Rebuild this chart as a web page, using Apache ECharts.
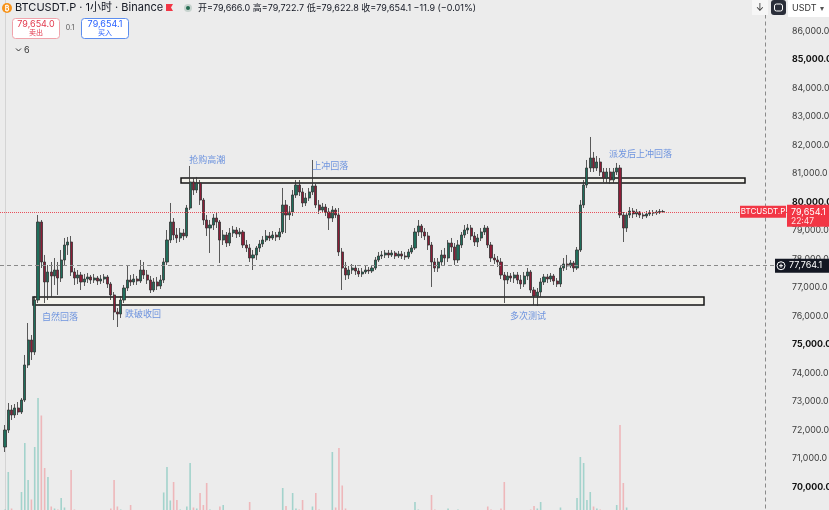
<!DOCTYPE html>
<html><head><meta charset="utf-8">
<script src="https://cdn.jsdelivr.net/npm/echarts@6/dist/echarts.min.js"></script>
<style>html,body{margin:0;padding:0;background:#ececec}#c{width:829px;height:510px}</style>
</head><body><div id="c"></div>
<script>
const opens=[71403,72000,72702,72526,72772,72631,73052,74281,75158,74737,
76561,79298,77895,77193,77544,77404,77614,77333,77965,78491,
78596,77544,77333,77439,77193,77298,77369,77263,77333,77228,
77298,77369,77123,76737,76140,76070,76561,76983,77263,77193,
77298,77228,77614,77439,77263,76912,77193,77053,77263,77895,
78666,79298,78842,78737,78912,78807,79789,80702,80421,80667,
80070,79368,79087,79193,79438,79298,78666,78842,78561,78912,
79017,78877,78947,78491,78386,78035,78141,78386,78526,78666,
78807,78737,78842,78772,78947,79895,79544,79649,80246,80597,
80351,79965,80141,80351,80562,79895,79719,79824,79649,79438,
79719,79544,78246,77684,77439,77614,77684,77579,77474,77544,
77614,77579,77684,77965,78105,78141,78211,78141,78211,78105,
78176,78105,78070,78246,78386,78947,79158,78947,78807,78491,
77895,77684,77895,78141,78035,78561,78421,77965,78491,78842,
79017,79087,78807,78596,78737,78947,79087,78491,78035,77965,
77895,77439,77263,77404,77333,77439,77263,77123,77404,77544,
76912,76702,76842,77193,77369,77298,77404,77228,77123,77684,
77825,77755,77860,77684,78316,79895,80597,81193,81544,81193,
81404,81053,80842,81053,80772,81053,81193,79544,79087,79544,
79684,79579,79649,79544,79509,79579,79614,79620,79649,79666.0];
const closes=[72000,72702,72526,72772,72631,73052,74281,75158,74737,76561,
79298,77895,77193,77544,77404,77614,77333,77965,78491,78596,
77544,77333,77439,77193,77298,77369,77263,77333,77228,77298,
77369,77123,76737,76140,76070,76561,76983,77263,77193,77298,
77228,77614,77439,77263,76912,77193,77053,77263,77895,78666,
79298,78842,78737,78912,78807,79789,80702,80421,80667,80070,
79368,79087,79193,79438,79298,78666,78842,78561,78912,79017,
78877,78947,78491,78386,78035,78141,78386,78526,78666,78807,
78737,78842,78772,78947,79895,79544,79649,80246,80597,80351,
79965,80141,80351,80562,79895,79719,79824,79649,79438,79719,
79544,78246,77684,77439,77614,77684,77579,77474,77544,77614,
77579,77684,77965,78105,78141,78211,78141,78211,78105,78176,
78105,78070,78246,78386,78947,79158,78947,78807,78491,77895,
77684,77895,78141,78035,78561,78421,77965,78491,78842,79017,
79087,78807,78596,78737,78947,79087,78491,78035,77965,77895,
77439,77263,77404,77333,77439,77263,77123,77404,77544,76912,
76702,76842,77193,77369,77298,77404,77228,77123,77684,77825,
77755,77860,77684,78316,79895,80597,81193,81544,81193,81404,
81053,80842,81053,80772,81053,81193,79544,79087,79544,79684,
79579,79649,79544,79509,79579,79614,79620,79649,79666,79654.1];
const highs=[72175,72947,72877,72912,72982,73122,74632,75754,75333,76702,
79544,79368,78141,77790,77895,78035,77895,78316,78737,78772,
78807,77684,77614,77544,77474,77509,77439,77474,77404,77439,
77474,77439,77193,76842,76280,76702,77088,77755,77439,77474,
77404,77965,77895,77614,77404,77333,77369,77439,78035,79017,
79965,79438,79087,79087,79052,79895,81264,80842,80878,80772,
80141,79544,79368,79579,79649,79368,79017,78947,79087,79158,
79123,79087,79017,78666,78526,78316,78456,78666,78807,79017,
78947,78982,78947,79087,80492,80070,79859,80421,80772,80772,
80492,80316,80492,81474,80632,80070,79965,79930,79789,79859,
79789,79789,78386,77895,77755,77825,77790,77684,77684,77755,
77719,77790,78070,78246,78281,78316,78316,78316,78281,78281,
78281,78246,78351,78491,79087,79368,79228,79087,78947,78596,
78035,78035,78316,78386,78666,78737,78561,78666,78947,79193,
79228,79193,78947,78877,79087,79193,79158,78596,78176,78105,
78035,77544,77544,77509,77544,77544,77439,77544,77684,77614,
77018,76983,77333,77474,77474,77509,77474,77333,77790,78035,
78141,77965,77930,78421,80070,80772,81474,82281,81755,81614,
81544,81193,81193,81193,81193,81369,81299,79649,79649,79824,
79789,79754,79684,79649,79684,79719,79719,79719,79754,79722.7];
const lows=[71228,71895,72351,72421,72526,72561,72982,74175,74456,74632,
76456,77684,76456,76561,76667,77088,76737,77193,77790,78141,
77404,77088,77123,76912,77053,77158,77123,77158,77088,77123,
77158,76983,76561,75859,75614,75930,76456,76877,77053,77088,
77088,77158,77298,77123,76807,76842,76912,76947,77158,77790,
78561,78666,78561,78596,78666,78737,79719,80246,80316,79895,
79193,78807,78211,79017,79087,77860,78491,78421,78456,78772,
78737,78772,78386,78246,77895,77614,77965,78246,78421,78596,
78631,78666,78631,78666,78877,78912,79368,79509,80141,80211,
79824,79859,80035,80246,79789,79579,79614,79509,79017,79298,
79438,78105,76912,77263,77298,77474,77439,77369,77369,77474,
77474,77509,77614,77895,78000,78035,78035,78070,78000,78035,
78000,77965,78000,78176,78316,78807,78737,78666,78316,77018,
77544,77544,77755,77790,77895,78246,77790,77860,78386,78737,
78877,78666,78456,78421,78631,78842,78386,77895,77825,77719,
77298,76456,77123,77193,77158,77123,76947,77018,77263,76807,
76386,76351,76667,77088,77158,77193,77088,77018,77018,77579,
77614,77684,77544,77614,78246,79789,80492,81053,81053,81088,
80913,80702,80667,80632,80667,80948,79438,78596,78947,79438,
79438,79473,79438,79403,79438,79509,79509,79544,79579,79622.8];
const volumes=[60,435,70,45,50,235,725,355,160,685,
1175,1000,475,385,90,70,60,175,80,50,
455,60,40,45,35,30,40,35,30,40,
35,50,70,355,90,60,45,50,105,40,
35,45,40,35,50,40,35,30,230,485,
150,335,155,60,45,90,525,80,70,225,
105,325,60,45,40,90,105,40,35,30,
35,30,50,45,135,40,35,30,35,30,
30,25,30,35,275,95,50,225,70,60,
155,40,35,90,225,60,40,35,50,635,
80,675,300,70,45,35,30,25,30,25,
30,25,45,40,30,25,20,25,20,25,
20,25,30,35,135,60,35,30,50,205,
60,40,45,35,70,40,50,60,45,40,
35,40,30,35,40,35,90,60,40,45,
70,335,50,35,30,35,40,35,30,60,
95,70,135,40,35,30,35,40,80,50,
45,30,35,175,585,525,155,235,90,70,
60,50,45,50,40,105,905,325,80,50,
35,30,25,30,25,20,25,20,20,15];
const annotations=[
  {text:'抢购高潮',i:55.7,price:81474},
  {text:'上冲回落',i:92.9,price:81264},
  {text:'派发后上冲回落',i:182.7,price:81685},
  {text:'自然回落',i:11.2,price:75965},
  {text:'跌破收回',i:36.3,price:76070},
  {text:'多次测试',i:152.7,price:76000}
];
const boxes=[
  {i0:53.24,i1:223.8,top:80842,bottom:80667},
  {i0:8.48,i1:211.4,top:76667,bottom:76386}
];
const lastPrice=79654.1, crossPrice=77764.1, crossIndex=229.85;
const PAD_BEFORE=1, TOTAL=238;
const FONT="Inter, 'Noto Sans CJK SC', sans-serif";

const cats=[], kData=[], vData=[];
for(let j=0;j<TOTAL;j++){
  cats.push(String(j));
  const i=j-PAD_BEFORE;
  if(i>=0 && i<opens.length){
    kData.push([opens[i],closes[i],lows[i],highs[i]]);
    const up=closes[i]>=opens[i];
    vData.push({value:volumes[i],itemStyle:{color:up?'rgba(34,166,148,0.36)':'rgba(242,70,80,0.32)'}});
  } else {kData.push('-');vData.push('-');}
}
const chart=echarts.init(document.getElementById('c'),null,{renderer:'canvas'});
const fmt=v=>v.toLocaleString('en-US',{minimumFractionDigits:1,maximumFractionDigits:1});
chart.setOption({
  animation:false,
  backgroundColor:'#ececec',
  textStyle:{fontFamily:FONT},
  grid:{left:0,right:42,top:-26,bottom:-5.5,containLabel:false,outerBoundsMode:'none'},
  xAxis:[
    {type:'category',data:cats,boundaryGap:true,show:false},
    {type:'value',min:-1.5,max:TOTAL-1.5,show:false}
  ],
  yAxis:[
    {type:'value',min:69000,max:88000,interval:1000,position:'right',
     axisLine:{show:true,lineStyle:{color:'#d4d4d4'}},axisTick:{show:false},splitLine:{show:false},
     axisLabel:{margin:5,align:'left',
       formatter:v=>(v%5000===0?'{b|':'{n|')+fmt(v)+'}',
       rich:{n:{fontSize:8.8,color:'#3b3b3b',fontFamily:FONT},b:{fontSize:8.8,fontWeight:'bold',color:'#111',fontFamily:FONT}}}},
    {type:'value',min:0,max:5415,show:false}
  ],
  series:[
    {type:'bar',xAxisIndex:0,yAxisIndex:1,data:vData,barWidth:1.6,z:1},
    {type:'candlestick',xAxisIndex:0,yAxisIndex:0,data:kData,barWidth:2.6,z:2,
     itemStyle:{color:'#1f6e5b',color0:'#8c1d37',borderColor:'#333333',borderColor0:'#333333',borderWidth:0.8},
     markLine:{silent:true,symbol:'none',label:{show:false},
       data:[
         {yAxis:lastPrice,lineStyle:{color:'#e8505b',type:'dotted',width:1}},
         {yAxis:crossPrice,lineStyle:{color:'#8a8a8a',type:[4,3],width:1}}
       ]}},
    {type:'scatter',xAxisIndex:1,yAxisIndex:0,symbolSize:0,z:5,
     data:annotations.map(a=>[a.i,a.price,a.text]),
     label:{show:true,position:'right',distance:0,formatter:p=>p.value[2],fontSize:9,color:'#4d7ddb',fontFamily:FONT},
     markArea:{silent:true,itemStyle:{color:'rgba(250,248,236,0.6)',borderColor:'#151515',borderWidth:1.5},
       data:boxes.map(b=>[{coord:[b.i0,b.top]},{coord:[b.i1,b.bottom]}])},
     markLine:{silent:true,symbol:'none',label:{show:false},
       data:[{xAxis:crossIndex,lineStyle:{color:'#8a8a8a',type:[4,3],width:1}}]}}
  ]
});
const yLast=chart.convertToPixel({yAxisIndex:0},lastPrice);
const yCross=chart.convertToPixel({yAxisIndex:0},crossPrice);
const T=(x,y,text,size,fill,extra)=>Object.assign({type:'text',x:x,y:y,z:100,style:Object.assign({text:text,fontSize:size,fill:fill,fontFamily:FONT,verticalAlign:'middle'},extra||{})});
chart.setOption({graphic:[
  {type:'circle',shape:{cx:7,cy:8,r:5},style:{fill:'#f7931a'},z:100},
  T(7,8.5,'₿',7,'#fff',{align:'center',fontWeight:'bold'}),
  T(15,8,'BTCUSDT.P · 1小时 · Binance',11,'#131722'),
  {type:'polygon',shape:{points:[[166,4],[173,4],[171,7.5],[173,11],[166,11]]},style:{fill:'#f23645'},z:100},
  {type:'circle',shape:{cx:188,cy:8,r:4},style:{fill:'#c7d3ce'},z:100},
  {type:'circle',shape:{cx:188,cy:8,r:2},style:{fill:'#236b50'},z:100},
  T(198,8,'开=79,666.0 高=79,722.7 低=79,622.8 收=79,654.1 −11.9 (−0.01%)',9,'#131722'),
  {type:'rect',shape:{x:12.5,y:18.5,width:47,height:20,r:3},style:{fill:'#ffffff',stroke:'#f0a3ab',lineWidth:1},z:100},
  T(36,24.5,'79,654.0',9,'#e2394d',{align:'center'}),
  T(36,33,'卖出',7,'#e2394d',{align:'center'}),
  T(70,28,'0.1',7,'#555',{align:'center'}),
  {type:'rect',shape:{x:81.5,y:18.5,width:47,height:20,r:3},style:{fill:'#ffffff',stroke:'#5b8def',lineWidth:1},z:100},
  T(105,24.5,'79,654.1',9,'#2962ff',{align:'center'}),
  T(105,33,'买入',7,'#2962ff',{align:'center'}),
  {type:'polyline',shape:{points:[[16,48.5],[18.5,51],[21,48.5]]},style:{stroke:'#333',lineWidth:1,fill:null},z:100},
  T(24,50,'6',9,'#333'),
  {type:'rect',shape:{x:752,y:0,width:16,height:15},style:{fill:'#f6f6f6'},z:100},
  T(760,7.5,'↓',10,'#333',{align:'center'}),
  {type:'rect',shape:{x:771,y:0,width:15,height:15,r:3},style:{fill:'#2a2e39'},z:100},
  {type:'rect',shape:{x:774.5,y:4,width:8,height:7,r:2},style:{fill:null,stroke:'#fff',lineWidth:1},z:101},
  {type:'rect',shape:{x:788,y:0,width:41,height:17},style:{fill:'#ffffff'},z:100},
  T(792,8.5,'USDT',9,'#333'),
  T(822,8.5,'▾',8,'#555',{align:'center'}),
  {type:'rect',shape:{x:740,y:yLast-6,width:46,height:12},style:{fill:'#f23645'},z:100},
  T(763,yLast,'BTCUSDT.P',8,'#fff',{align:'center'}),
  {type:'rect',shape:{x:787,y:yLast-7,width:42,height:22},style:{fill:'#f23645'},z:100},
  T(791,yLast,fmt(lastPrice),9,'#fff'),
  T(791,yLast+9.5,'22:47',8.5,'#ffe3e5'),
  {type:'rect',shape:{x:775,y:yCross-7,width:54,height:14},style:{fill:'#131722'},z:100},
  {type:'circle',shape:{cx:781,cy:yCross,r:4},style:{fill:null,stroke:'#fff',lineWidth:1},z:101},
  {type:'polyline',shape:{points:[[779,yCross],[783,yCross]]},style:{stroke:'#fff',lineWidth:1},z:101},
  {type:'polyline',shape:{points:[[781,yCross-2],[781,yCross+2]]},style:{stroke:'#fff',lineWidth:1},z:101},
  T(789,yCross,fmt(crossPrice),9,'#fff')
]});
</script></body></html>
